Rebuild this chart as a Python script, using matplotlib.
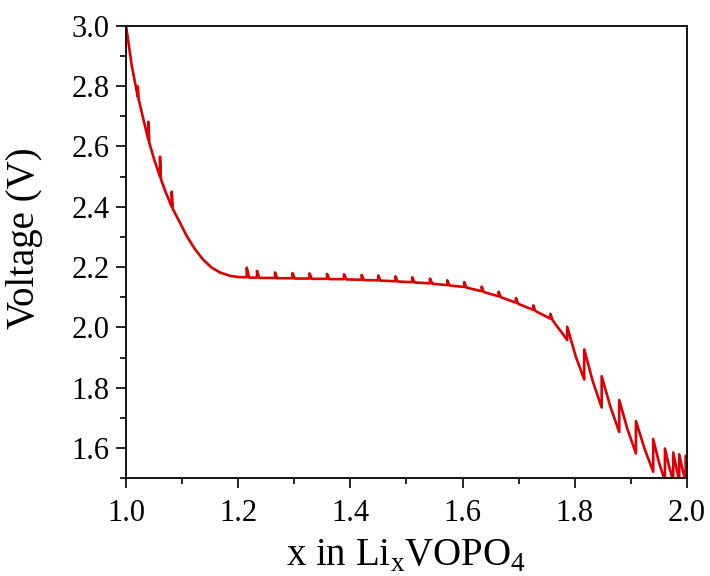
import matplotlib
matplotlib.use('agg')
import matplotlib.pyplot as plt
import numpy as np
from matplotlib.ticker import MultipleLocator

# GITT discharge curve (x in LixVOPO4, voltage in V)
# sloping part, 1.0 -> 1.21
x_slope = [1.000, 1.004, 1.010, 1.0209, 1.0209, 1.0225, 1.031, 1.0398, 1.0398, 1.0415,
           1.050, 1.0606, 1.0606, 1.0622, 1.071, 1.0815, 1.0815, 1.0835, 1.0963, 1.1082,
           1.1230, 1.1378, 1.1528, 1.1676, 1.1854, 1.2000]
v_slope = [3.000, 2.950, 2.870, 2.765, 2.799, 2.757, 2.690, 2.622, 2.682, 2.612,
           2.558, 2.500, 2.566, 2.492, 2.447, 2.400, 2.450, 2.392, 2.347, 2.303,
           2.259, 2.224, 2.198, 2.182, 2.171, 2.167]

# plateau: pulse end (bottom), relaxed (top), next pulse start
x_plat = [1.2152, 1.2152, 1.2195, 1.2335, 1.2335, 1.2375, 1.2656, 1.2656, 1.2696,
          1.2968, 1.2968, 1.3008, 1.3271, 1.3271, 1.3311, 1.3583, 1.3583, 1.3623,
          1.3886, 1.3886, 1.3926, 1.4201, 1.4201, 1.4241, 1.4497, 1.4497, 1.4537,
          1.4804, 1.4804, 1.4844, 1.5103, 1.5103, 1.5143, 1.5419, 1.5419, 1.5459,
          1.5727, 1.5727, 1.5767, 1.6029, 1.6029, 1.6069, 1.6340, 1.6340, 1.6380,
          1.6643, 1.6643, 1.6683, 1.6952, 1.6952, 1.6992, 1.7260, 1.7260, 1.7300,
          1.7565, 1.7565, 1.7605]
v_plat = [2.166, 2.198, 2.165, 2.165, 2.187, 2.164, 2.164, 2.182, 2.163,
          2.163, 2.180, 2.162, 2.162, 2.179, 2.161, 2.161, 2.177, 2.160,
          2.160, 2.176, 2.159, 2.158, 2.174, 2.157, 2.156, 2.172, 2.155,
          2.153, 2.169, 2.152, 2.150, 2.166, 2.149, 2.146, 2.162, 2.145,
          2.140, 2.156, 2.139, 2.134, 2.150, 2.132, 2.120, 2.135, 2.117,
          2.103, 2.118, 2.100, 2.082, 2.097, 2.078, 2.058, 2.073, 2.054,
          2.029, 2.045, 2.024]

# steep tail 1.76 -> 2.0
x_tail = [1.7666, 1.7760, 1.7866, 1.7866, 1.8015, 1.8169, 1.8169, 1.832, 1.8480, 1.8480,
          1.8635, 1.8793, 1.8793, 1.894, 1.9091, 1.9091, 1.9245, 1.9399, 1.9399, 1.950,
          1.9608, 1.9608, 1.968, 1.9756, 1.9756, 1.981, 1.9863, 1.9863, 1.992, 1.9977,
          1.9977, 2.004]
v_tail = [2.008, 1.985, 1.958, 2.002, 1.905, 1.827, 1.927, 1.822, 1.734, 1.838,
          1.737, 1.653, 1.759, 1.662, 1.582, 1.689, 1.597, 1.521, 1.629, 1.553,
          1.490, 1.598, 1.540, 1.490, 1.585, 1.535, 1.490, 1.579, 1.530, 1.490,
          1.574, 1.520]

x_li = np.array(x_slope + x_plat + x_tail)
volt = np.array(v_slope + v_plat + v_tail)

plt.rcParams['font.family'] = ['Liberation Serif', 'DejaVu Serif']
plt.rcParams['mathtext.fontset'] = 'custom'
plt.rcParams['mathtext.rm'] = 'Liberation Serif'

fig = plt.figure(figsize=(7.1, 5.76), dpi=100)
ax = fig.add_axes([0.1775, 0.170, 0.790, 0.785])

ax.plot(x_li, volt, color='#dd0000', lw=1.9)

ax.set_xlim(1.0, 2.0)
ax.set_ylim(1.5, 3.0)
ax.xaxis.set_major_locator(MultipleLocator(0.2))
ax.xaxis.set_minor_locator(MultipleLocator(0.1))
ax.yaxis.set_major_locator(MultipleLocator(0.2))
ax.yaxis.set_minor_locator(MultipleLocator(0.1))
ax.xaxis.set_major_formatter(matplotlib.ticker.FormatStrFormatter('%.1f'))
ax.yaxis.set_major_formatter(matplotlib.ticker.FormatStrFormatter('%.1f'))

ax.tick_params(which='major', direction='out', length=7, width=1.2, labelsize=22, pad=5)
ax.tick_params(axis='x', which='major', pad=8)
ax.tick_params(which='minor', direction='out', length=4, width=1.2)
ax.tick_params(top=False, right=False)
for sp in ax.spines.values():
    sp.set_linewidth(1.3)

ax.set_xlabel(r'x in Li$_\mathregular{x}$VOPO$_\mathregular{4}$', fontsize=28, labelpad=7)
ax.set_ylabel('Voltage (V)', fontsize=28)
ax.yaxis.set_label_coords(-0.148, 0.53)

plt.savefig('out.png', dpi=100)
plt.close()
